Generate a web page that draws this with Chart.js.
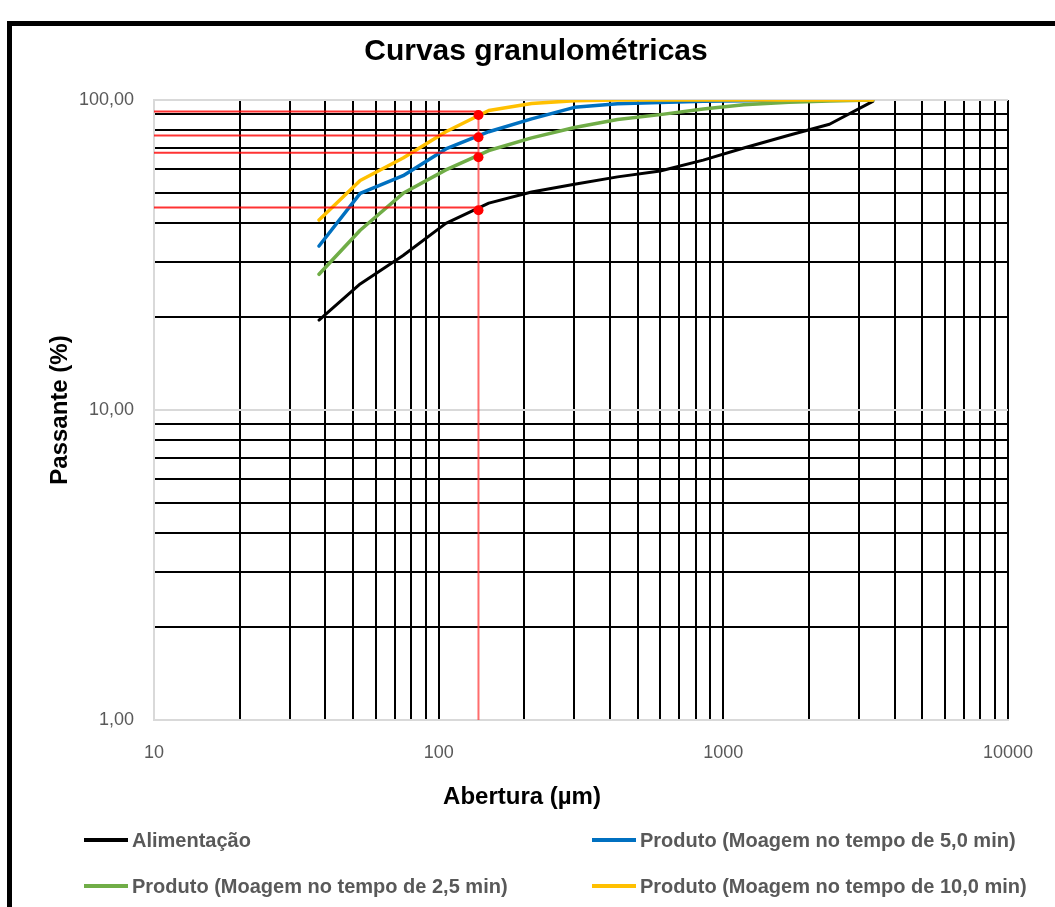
<!DOCTYPE html>
<html>
<head>
<meta charset="utf-8">
<script src="https://cdn.jsdelivr.net/npm/chart.js@4.4.1/dist/chart.umd.min.js"></script>
<style>
html,body{margin:0;padding:0;background:#fff;}
#wrap{position:relative;width:1055px;height:907px;overflow:hidden;background:#fff;}
canvas{position:absolute;left:0;top:0;}
#frame{position:absolute;left:7px;top:21px;width:1200px;height:1000px;border-left:5px solid #000;border-top:5px solid #000;box-sizing:border-box;pointer-events:none;}
.t{position:absolute;font-family:"Liberation Sans",Arial,sans-serif;font-weight:bold;white-space:nowrap;}
#title{left:0;width:1072px;top:35px;line-height:30px;font-size:30px;text-align:center;color:#000;}
#xtitle{left:0;width:1044px;top:784px;line-height:24px;font-size:24px;text-align:center;color:#000;}
#ytitle{left:-41px;width:200px;top:398px;line-height:24px;font-size:24px;text-align:center;color:#000;transform:rotate(-90deg);transform-origin:50% 50%;}
.lg{font-size:20px;line-height:20px;color:#595959;}
.ln{position:absolute;height:4px;width:44px;}
</style>
</head>
<body>
<div id="wrap">
<canvas id="c" width="1055" height="907"></canvas>
<div id="frame"></div>
<div class="t" id="title">Curvas granulométricas</div>
<div class="t" id="xtitle">Abertura (µm)</div>
<div class="t" id="ytitle">Passante (%)</div>
<div id="legend"></div>
</div>
<script>
// ---- data ----
const sieves = [38, 53, 75, 106, 150, 212, 300, 425, 600, 850, 1180, 1700, 2360, 3350];
const alimentacao = [19.5, 25.5, 31.5, 40, 46.5, 50.5, 53.5, 56.5, 59, 64, 70, 77, 83.5, 99];
const produto5 = [33.8, 50, 57, 69.5, 79, 86.9, 94.7, 97.3, 98.2, 99, 99.5, 99.8, 100, 100];
const produto25 = [27.4, 38, 50, 59.5, 68.7, 75.5, 81.5, 86.5, 89.7, 93.5, 96.5, 98.3, 99.2, 100];
const produto10 = [41, 55, 65, 79, 92.5, 97.5, 99.5, 100, 100, 100, 100, 100, 100, 100];

const seriesNames = ['Alimentação', 'Produto (Moagem no tempo de 5,0 min)', 'Produto (Moagem no tempo de 2,5 min)', 'Produto (Moagem no tempo de 10,0 min)'];
const seriesColors = ['#000000', '#0070C0', '#70AD47', '#FFC000'];

// reference (red) marks
const refSize = 138;
const refLevels = [91.8, 76.8, 67.6, 45.0];
const refPoints = [89.5, 75.8, 65.4, 44.1];

// axes
const xGrid = [10,20,30,40,50,60,70,80,90,100,200,300,400,500,600,700,800,900,1000,2000,3000,4000,5000,6000,7000,8000,9000,10000];
const yGrid = [1,2,3,4,5,6,7,8,9,10,20,30,40,50,60,70,80,90,100];
const xMajors = [10, 100, 1000, 10000];
const xTickLabels = ['10', '100', '1000', '10000'];
const yMajors = [1, 10, 100];
const yTickLabels = ['1,00', '10,00', '100,00'];

// ---- legend (HTML, 2 x 2) ----
const legendPos = [[84, 840], [592, 840], [84, 886], [592, 886]];
const lg = document.getElementById('legend');
seriesNames.forEach((n, i) => {
  const [x, y] = legendPos[i];
  const l = document.createElement('div');
  l.className = 'ln';
  l.style.left = x + 'px'; l.style.top = (y - 2) + 'px'; l.style.background = seriesColors[i];
  lg.appendChild(l);
  const t = document.createElement('div');
  t.className = 't lg';
  t.style.left = (x + 48) + 'px'; t.style.top = (y - 10) + 'px';
  t.textContent = n;
  lg.appendChild(t);
});

// ---- chart ----
const pts = arr => sieves.map((x, i) => ({x: x, y: arr[i]}));
const seriesData = [alimentacao, produto5, produto25, produto10];
const curveOrder = [13, 12, 11, 10];
const datasets = [];
seriesData.forEach((arr, i) => {
  datasets.push({
    label: seriesNames[i], data: pts(arr), borderColor: seriesColors[i],
    borderWidth: i === 0 ? 3 : 3.5, pointRadius: 0, fill: false, tension: 0,
    borderJoinStyle: 'round', borderCapStyle: 'round', order: curveOrder[i]
  });
});
refLevels.forEach((v, i) => {
  datasets.push({
    label: 'ref' + i, data: [{x: 10, y: v}, {x: refSize, y: v}],
    borderColor: 'rgba(255,0,0,0.8)', borderWidth: 2, pointRadius: 0, fill: false, order: 3
  });
});
datasets.push({
  label: 'refv', data: [{x: refSize, y: 1}, {x: refSize, y: refPoints[0]}],
  borderColor: 'rgba(255,60,60,0.75)', borderWidth: 2, pointRadius: 0, fill: false, order: 2
});
datasets.push({
  label: 'dots', data: refPoints.map(v => ({x: refSize, y: v})), showLine: false,
  pointRadius: 5, pointBackgroundColor: '#FF0000', pointBorderWidth: 0, order: 1
});

new Chart(document.getElementById('c'), {
  type: 'line',
  data: {datasets: datasets},
  options: {
    responsive: false, animation: false, devicePixelRatio: 1,
    layout: {padding: {left: 0, right: 43, top: 100, bottom: 127}},
    plugins: {legend: {display: false}, title: {display: false}, tooltip: {enabled: false}},
    events: [],
    scales: {
      x: {
        type: 'logarithmic', min: 10, max: 10000,
        afterBuildTicks: s => { s.ticks = xGrid.map(v => ({value: v})); },
        afterFit: s => { s.height = 60; },
        ticks: {
          autoSkip: false, maxRotation: 0, minRotation: 0, padding: 22,
          color: '#595959', font: {family: '"Liberation Sans", Arial, sans-serif', size: 18},
          callback: v => { const i = xMajors.indexOf(v); return i >= 0 ? xTickLabels[i] : ''; }
        },
        grid: {drawTicks: false, lineWidth: 2, color: c => (c.tick && c.tick.value === 10) ? '#d9d9d9' : '#000000'},
        border: {display: true, color: '#d9d9d9', width: 2}
      },
      y: {
        type: 'logarithmic', min: 1, max: 100,
        afterBuildTicks: s => { s.ticks = yGrid.map(v => ({value: v})); },
        afterFit: s => { s.width = 154; },
        ticks: {
          autoSkip: false, padding: 20,
          color: '#595959', font: {family: '"Liberation Sans", Arial, sans-serif', size: 18},
          callback: v => { const i = yMajors.indexOf(v); return i >= 0 ? yTickLabels[i] : ''; }
        },
        grid: {drawTicks: false, lineWidth: 2, color: c => (c.tick && yMajors.includes(c.tick.value)) ? '#d9d9d9' : '#000000'},
        border: {display: true, color: '#d9d9d9', width: 2}
      }
    }
  }
});
</script>
</body>
</html>
